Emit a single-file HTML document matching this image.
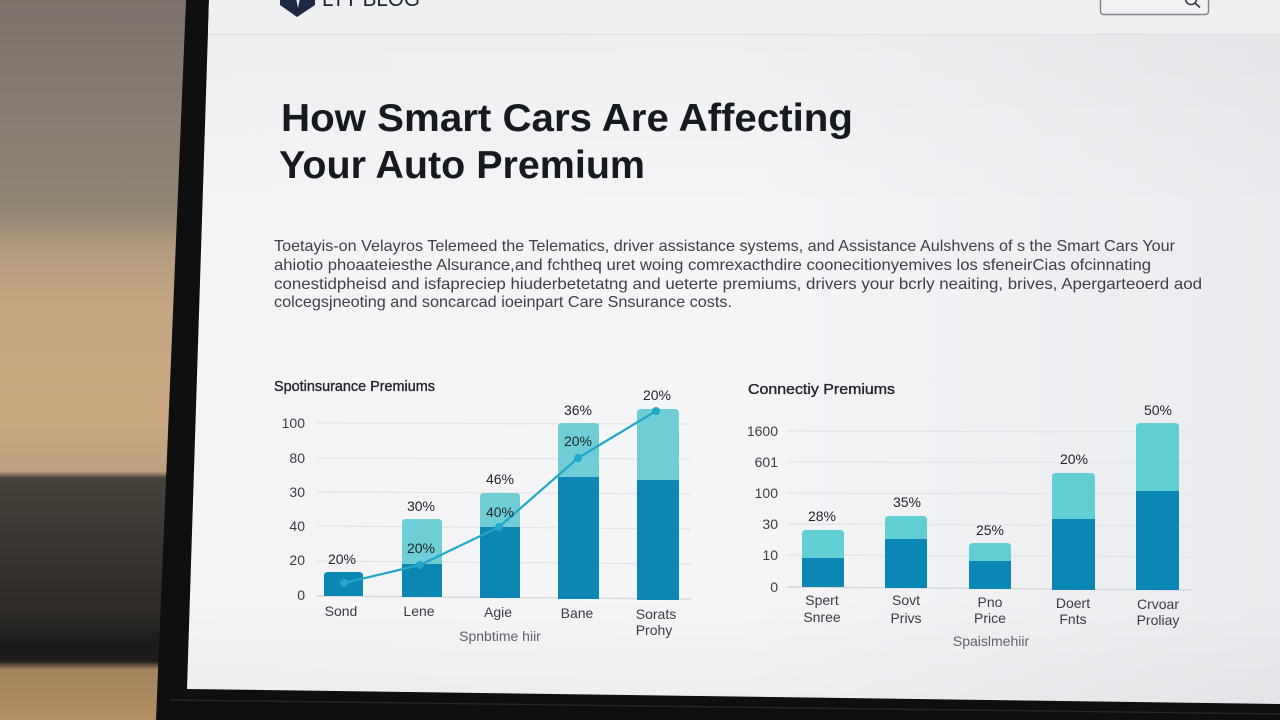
<!DOCTYPE html>
<html>
<head>
<meta charset="utf-8">
<style>
  html,body{margin:0;padding:0;width:1280px;height:720px;overflow:hidden;background:#111;}
  svg{display:block;}
  text{font-family:"Liberation Sans", "DejaVu Sans", sans-serif;}
</style>
</head>
<body>
<svg width="1280" height="720" viewBox="0 0 1280 720" xmlns="http://www.w3.org/2000/svg">
  <defs>
    <linearGradient id="bgL" x1="0" y1="0" x2="0" y2="1">
      <stop offset="0" stop-color="#7b716a"/>
      <stop offset="0.15" stop-color="#877c72"/>
      <stop offset="0.29" stop-color="#938573"/>
      <stop offset="0.35" stop-color="#b49b7f"/>
      <stop offset="0.42" stop-color="#c4a580"/>
      <stop offset="0.58" stop-color="#caa982"/>
      <stop offset="0.655" stop-color="#bea07f"/>
      <stop offset="0.664" stop-color="#48423c"/>
      <stop offset="0.75" stop-color="#3a3631"/>
      <stop offset="0.85" stop-color="#2d2a27"/>
      <stop offset="0.895" stop-color="#1d1c1b"/>
      <stop offset="0.918" stop-color="#1f1d1b"/>
      <stop offset="0.93" stop-color="#a5845f"/>
      <stop offset="1" stop-color="#b48e63"/>
    </linearGradient>
    <linearGradient id="scr" x1="0" y1="0" x2="1" y2="0">
      <stop offset="0" stop-color="#f3f4f6"/>
      <stop offset="0.5" stop-color="#f4f5f7"/>
      <stop offset="1" stop-color="#eaebee"/>
    </linearGradient>
    <linearGradient id="scrV" x1="0" y1="0" x2="0" y2="1">
      <stop offset="0" stop-color="#000" stop-opacity="0.03"/>
      <stop offset="0.3" stop-color="#000" stop-opacity="0"/>
      <stop offset="0.85" stop-color="#000" stop-opacity="0"/>
      <stop offset="1" stop-color="#000" stop-opacity="0.03"/>
    </linearGradient>
  </defs>

  <!-- left background (blurred room) -->
  <rect x="0" y="0" width="260" height="720" fill="url(#bgL)"/>

  <!-- laptop bezel -->
  <polygon points="186,0 1280,0 1280,720 156,720" fill="#0f0f10"/>
  <line x1="170" y1="700" x2="1280" y2="714" stroke="#262628" stroke-width="1.5"/>

  <!-- screen -->
  <polygon points="209,0 1280,0 1280,704 187,689" fill="url(#scr)"/>
  <polygon points="209,0 1280,0 1280,704 187,689" fill="url(#scrV)"/>
  <!-- header -->
  <polygon points="209,0 1280,0 1280,34 208,34" fill="#edeff1"/>
  <line x1="208" y1="34.5" x2="1280" y2="34.5" stroke="#dfe1e4" stroke-width="1.5"/>

  <!-- logo -->
  <polygon points="280,-4 315,-4 315,5 297,17 280,5" fill="#1e2844"/>
  <path d="M296,-2 L300,-2 L298,8 Z" fill="#e8eaee"/>
  <text x="322" y="6" font-size="22" fill="#1f2430" textLength="98" lengthAdjust="spacingAndGlyphs">LTT BLOG</text>

  <!-- search box -->
  <rect x="1100.5" y="-6" width="108" height="20.5" rx="3" fill="#f2f3f5" stroke="#7f8287" stroke-width="1.4"/>
  <circle cx="1191" cy="-1" r="5.5" fill="none" stroke="#3a3d42" stroke-width="1.6"/>
  <line x1="1195" y1="3" x2="1200" y2="7.5" stroke="#3a3d42" stroke-width="1.8"/>

  <!-- title -->
  <text x="281" y="131" font-size="39" font-weight="bold" fill="#161a20" textLength="572" lengthAdjust="spacingAndGlyphs">How Smart Cars Are Affecting</text>
  <text x="279" y="178" font-size="39" font-weight="bold" fill="#161a20" textLength="366" lengthAdjust="spacingAndGlyphs">Your Auto Premium</text>

  <!-- paragraph -->
  <g font-size="16" fill="#3d4046">
    <text x="274" y="251" textLength="901" lengthAdjust="spacingAndGlyphs">Toetayis-on Velayros Telemeed the Telematics, driver assistance systems, and Assistance  Aulshvens of  s the Smart Cars Your</text>
    <text x="274" y="270" textLength="877" lengthAdjust="spacingAndGlyphs">ahiotio phoaateiesthe Alsurance,and fchtheq uret woing comrexacthdire coonecitionyemives los sfeneirCias ofcinnating</text>
    <text x="274" y="289" textLength="928" lengthAdjust="spacingAndGlyphs">conestidpheisd and isfapreciep hiuderbetetatng and ueterte premiums, drivers your bcrly neaiting, brives, Apergarteoerd aod</text>
    <text x="274" y="307" textLength="458" lengthAdjust="spacingAndGlyphs">colcegsjneoting and soncarcad ioeinpart Care Snsurance costs.</text>
  </g>

  <!-- ============ LEFT CHART ============ -->
  <text x="274" y="391" font-size="14.5" fill="#22252b" stroke="#22252b" stroke-width="0.35" textLength="161" lengthAdjust="spacingAndGlyphs">Spotinsurance Premiums</text>

  <g stroke="#e2e4e7" stroke-width="1.2">
    <line x1="317" y1="423" x2="691" y2="424"/>
    <line x1="317" y1="458" x2="691" y2="459"/>
    <line x1="317" y1="492" x2="691" y2="494"/>
    <line x1="317" y1="526" x2="691" y2="529"/>
    <line x1="317" y1="561" x2="691" y2="564"/>
  </g>
  <line x1="317" y1="596" x2="691" y2="599" stroke="#d6d8dc" stroke-width="1.4"/>

  <g font-size="14" fill="#3a3d42" text-anchor="end">
    <text x="305" y="428">100</text>
    <text x="305" y="463">80</text>
    <text x="305" y="497">30</text>
    <text x="305" y="531">40</text>
    <text x="305" y="565">20</text>
    <text x="305" y="600">0</text>
  </g>

  <!-- bars -->
  <path d="M324,596 V576 Q324,572 328,572 H359 Q363,572 363,576 V596 Z" fill="#0c86b3"/>

  <path d="M402,597 V523 Q402,519 406,519 H438 Q442,519 442,523 V597 Z" fill="#6fcdd6"/>
  <rect x="402" y="564" width="40" height="33" fill="#0c86b3"/>

  <path d="M480,598 V497 Q480,493 484,493 H516 Q520,493 520,497 V598 Z" fill="#6fcdd6"/>
  <rect x="480" y="527" width="40" height="71" fill="#0c86b3"/>

  <path d="M558,599 V427 Q558,423 562,423 H595 Q599,423 599,427 V599 Z" fill="#6fcdd6"/>
  <rect x="558" y="477" width="41" height="122" fill="#0c86b3"/>

  <path d="M637,600 V413 Q637,409 641,409 H675 Q679,409 679,413 V600 Z" fill="#6fcdd6"/>
  <rect x="637" y="480" width="42" height="120" fill="#0c86b3"/>

  <!-- line -->
  <polyline points="344,583 420,565 499,527 578,458 656,411" fill="none" stroke="#21a7c7" stroke-width="2.2" stroke-linejoin="round"/>
  <g fill="#21a7c7">
    <circle cx="344" cy="583" r="4"/>
    <circle cx="420" cy="565" r="4"/>
    <circle cx="499" cy="527" r="4"/>
    <circle cx="578" cy="458" r="4"/>
    <circle cx="656" cy="411" r="4"/>
  </g>

  <g font-size="14" fill="#22252b" text-anchor="middle">
    <text x="342" y="564">20%</text>
    <text x="421" y="511">30%</text>
    <text x="421" y="553">20%</text>
    <text x="500" y="484">46%</text>
    <text x="500" y="517">40%</text>
    <text x="578" y="415">36%</text>
    <text x="578" y="446">20%</text>
    <text x="657" y="400">20%</text>
  </g>

  <g font-size="14" fill="#3a3d42" text-anchor="middle">
    <text x="341" y="616">Sond</text>
    <text x="419" y="616">Lene</text>
    <text x="498" y="617">Agie</text>
    <text x="577" y="618">Bane</text>
    <text x="656" y="619">Sorats</text>
    <text x="654" y="635">Prohy</text>
  </g>
  <text x="500" y="641" font-size="14" fill="#5e6268" text-anchor="middle">Spnbtime hiir</text>

  <!-- ============ RIGHT CHART ============ -->
  <text x="748" y="394" font-size="14.5" fill="#22252b" stroke="#22252b" stroke-width="0.35" textLength="147" lengthAdjust="spacingAndGlyphs">Connectiy Premiums</text>

  <g stroke="#e2e4e7" stroke-width="1.2">
    <line x1="787" y1="431" x2="1192" y2="432"/>
    <line x1="787" y1="462" x2="1192" y2="463"/>
    <line x1="787" y1="493" x2="1192" y2="494"/>
    <line x1="787" y1="524" x2="1192" y2="526"/>
    <line x1="787" y1="555" x2="1192" y2="557"/>
  </g>
  <line x1="787" y1="587" x2="1192" y2="590" stroke="#d6d8dc" stroke-width="1.4"/>

  <g font-size="14" fill="#3a3d42" text-anchor="end">
    <text x="778" y="436">1600</text>
    <text x="778" y="467">601</text>
    <text x="778" y="498">100</text>
    <text x="778" y="529">30</text>
    <text x="778" y="560">10</text>
    <text x="778" y="592">0</text>
  </g>

  <path d="M802,587 V534 Q802,530 806,530 H840 Q844,530 844,534 V587 Z" fill="#62cfd4"/>
  <rect x="802" y="558" width="42" height="29" fill="#0a87b4"/>

  <path d="M885,588 V520 Q885,516 889,516 H923 Q927,516 927,520 V588 Z" fill="#62cfd4"/>
  <rect x="885" y="539" width="42" height="49" fill="#0a87b4"/>

  <path d="M969,589 V547 Q969,543 973,543 H1007 Q1011,543 1011,547 V589 Z" fill="#62cfd4"/>
  <rect x="969" y="561" width="42" height="28" fill="#0a87b4"/>

  <path d="M1052,590 V477 Q1052,473 1056,473 H1091 Q1095,473 1095,477 V590 Z" fill="#62cfd4"/>
  <rect x="1052" y="519" width="43" height="71" fill="#0a87b4"/>

  <path d="M1136,590 V427 Q1136,423 1140,423 H1175 Q1179,423 1179,427 V590 Z" fill="#62cfd4"/>
  <rect x="1136" y="491" width="43" height="99" fill="#0a87b4"/>

  <g font-size="14" fill="#22252b" text-anchor="middle">
    <text x="822" y="521">28%</text>
    <text x="907" y="507">35%</text>
    <text x="990" y="535">25%</text>
    <text x="1074" y="464">20%</text>
    <text x="1158" y="415">50%</text>
  </g>

  <g font-size="14" fill="#3a3d42" text-anchor="middle">
    <text x="822" y="605">Spert</text>
    <text x="822" y="622">Snree</text>
    <text x="906" y="605">Sovt</text>
    <text x="906" y="623">Privs</text>
    <text x="990" y="607">Pno</text>
    <text x="990" y="623">Price</text>
    <text x="1073" y="608">Doert</text>
    <text x="1073" y="624">Fnts</text>
    <text x="1158" y="609">Crvoar</text>
    <text x="1158" y="625">Proliay</text>
  </g>
  <text x="991" y="646" font-size="14" fill="#5e6268" text-anchor="middle">Spaislmehiir</text>
</svg>
</body>
</html>
